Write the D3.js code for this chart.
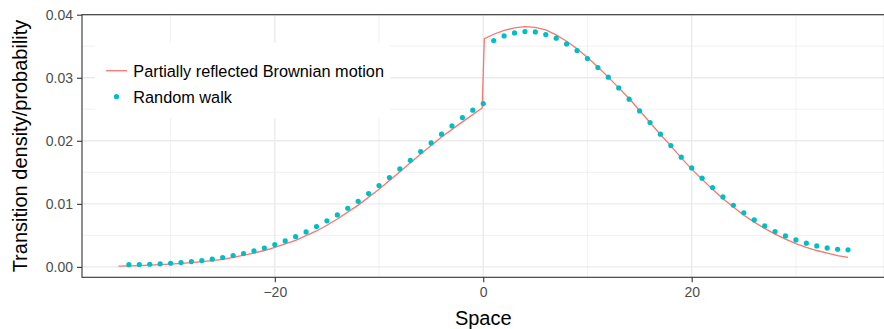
<!DOCTYPE html>
<html>
<head>
<meta charset="utf-8">
<script src="https://cdn.jsdelivr.net/npm/d3@7"></script>
<style>
  body { margin: 0; background: #fff; }
  svg { display: block; font-family: "Liberation Sans", Arial, sans-serif; }
</style>
</head>
<body>
<div id="chart"></div>
<script>
// continuous curve (partially reflected Brownian motion)
const densityX = [-35, -33, -31, -30, -28, -26, -25, -24, -22, -21, -20, -18, -16, -15, -14, -12, -10, -8, -6, -4, -2, -0.1,
  0.1, 1, 2, 3, 4, 5, 6, 7, 8, 9, 10, 11, 12, 13, 14, 15, 16, 17, 18, 19, 20, 21, 22, 23, 24, 25, 26, 27, 28, 29, 30, 31, 32, 33, 34, 35];
const densityY = [0.00012, 0.0002, 0.00035, 0.00045, 0.00068, 0.0010, 0.0012, 0.0015, 0.0022, 0.0026, 0.0031, 0.0042, 0.0057, 0.0066, 0.0076, 0.0098, 0.0123, 0.0151, 0.0179, 0.0206, 0.0230, 0.0252,
  0.0362, 0.0369, 0.0375, 0.0379, 0.0381, 0.0380, 0.0376, 0.0368, 0.0358, 0.0346, 0.0332, 0.0317, 0.0301, 0.0284, 0.0267, 0.0248, 0.0229, 0.0210, 0.0192, 0.0173, 0.0155, 0.0139, 0.0123, 0.0108, 0.0095, 0.0082, 0.0071, 0.0061, 0.0052, 0.0044, 0.0037, 0.0031, 0.0026, 0.0022, 0.0018, 0.0015];

// random walk probabilities
const walkX = [-34, -33, -32, -31, -30, -29, -28, -27, -26, -25, -24, -23, -22, -21, -20, -19, -18, -17, -16, -15, -14, -13, -12, -11, -10, -9, -8, -7, -6, -5, -4, -3, -2, -1, 0,
  1, 2, 3, 4, 5, 6, 7, 8, 9, 10, 11, 12, 13, 14, 15, 16, 17, 18, 19, 20, 21, 22, 23, 24, 25, 26, 27, 28, 29, 30, 31, 32, 33, 34, 35];
const walkY = [0.00036, 0.00038, 0.00042, 0.00048, 0.00058, 0.00069, 0.00085, 0.0010, 0.00122, 0.00148, 0.0018, 0.0021, 0.00254, 0.0030, 0.00354, 0.00412, 0.0048, 0.00555, 0.0064, 0.0073, 0.00825, 0.0093, 0.0104, 0.01163, 0.0129, 0.01417, 0.01554, 0.0169, 0.01829, 0.01967, 0.02105, 0.02236, 0.02368, 0.02485, 0.0259,
  0.0359, 0.03664, 0.03711, 0.03732, 0.03727, 0.03685, 0.03627, 0.03537, 0.03431, 0.03304, 0.03161, 0.03009, 0.02839, 0.0266, 0.02474, 0.02289, 0.02105, 0.01924, 0.0174, 0.0157, 0.01407, 0.01258, 0.0111, 0.00978, 0.00859, 0.00745, 0.0065, 0.0056, 0.00492, 0.00428, 0.00376, 0.00333, 0.00301, 0.0028, 0.0027];

const xTicks = [-20, 0, 20];
const xMinor = [-30, -10, 10, 30];
const yTicks = [0, 0.01, 0.02, 0.03, 0.04];
const yMinor = [0.005, 0.015, 0.025, 0.035];
const legendLabels = ['Partially reflected Brownian motion', 'Random walk'];

const width = 884, height = 329;
const panel = { left: 82, right: 884.5, top: 14.7, bottom: 277.3 };

const x = d3.scaleLinear().domain([-38.5, 38.5]).range([panel.left, panel.right]);
const y = d3.scaleLinear().domain([-0.00165, 0.04]).range([panel.bottom, panel.top]);

const svg = d3.select('#chart').append('svg')
  .attr('width', width)
  .attr('height', height);

// grid
const grid = svg.append('g');
grid.selectAll('.ymin').data(yMinor).enter().append('line')
  .attr('x1', panel.left).attr('x2', panel.right)
  .attr('y1', d => y(d)).attr('y2', d => y(d))
  .attr('stroke', '#ebebeb').attr('stroke-width', 0.7);
grid.selectAll('.xmin').data(xMinor).enter().append('line')
  .attr('y1', panel.top).attr('y2', panel.bottom)
  .attr('x1', d => x(d)).attr('x2', d => x(d))
  .attr('stroke', '#ebebeb').attr('stroke-width', 0.7);
grid.selectAll('.ymaj').data(yTicks).enter().append('line')
  .attr('x1', panel.left).attr('x2', panel.right)
  .attr('y1', d => y(d)).attr('y2', d => y(d))
  .attr('stroke', '#ebebeb').attr('stroke-width', 1.4);
grid.selectAll('.xmaj').data(xTicks).enter().append('line')
  .attr('y1', panel.top).attr('y2', panel.bottom)
  .attr('x1', d => x(d)).attr('x2', d => x(d))
  .attr('stroke', '#ebebeb').attr('stroke-width', 1.4);

// legend background sits over the grid
const legend = svg.append('g');
legend.append('rect')
  .attr('x', 95).attr('y', 43).attr('width', 295).attr('height', 75)
  .attr('fill', '#fff');

// density line
const line = d3.line()
  .x((d, i) => x(densityX[i]))
  .y(d => y(d));

svg.append('path')
  .datum(densityY)
  .attr('d', line)
  .attr('fill', 'none')
  .attr('stroke', '#F8766D')
  .attr('stroke-width', 1.3);

// random walk points
svg.selectAll('.pt')
  .data(walkY)
  .enter().append('circle')
  .attr('cx', (d, i) => x(walkX[i]))
  .attr('cy', d => y(d))
  .attr('r', 2.6)
  .attr('fill', '#00BFC4');

// panel border
svg.append('rect')
  .attr('x', panel.left).attr('y', panel.top)
  .attr('width', panel.right - panel.left).attr('height', panel.bottom - panel.top)
  .attr('fill', 'none').attr('stroke', '#333333').attr('stroke-width', 1.1);

// axes
const xAxis = svg.append('g')
  .attr('transform', 'translate(0,' + panel.bottom + ')')
  .call(d3.axisBottom(x).tickValues(xTicks).tickSize(5).tickPadding(5)
    .tickFormat(d => d < 0 ? '\u2212' + Math.abs(d) : String(d)));
const yAxis = svg.append('g')
  .attr('transform', 'translate(' + panel.left + ',0)')
  .call(d3.axisLeft(y).tickValues(yTicks).tickSize(5).tickPadding(4)
    .tickFormat(d3.format('.2f')));

[xAxis, yAxis].forEach(g => {
  g.select('.domain').remove();
  g.selectAll('.tick line').attr('stroke', '#333333').attr('stroke-width', 1.1);
  g.selectAll('.tick text')
    .attr('fill', '#4d4d4d')
    .style('font-size', '14px')
    .style('font-family', '"Liberation Sans", Arial, sans-serif');
});

// axis titles
svg.append('text')
  .attr('x', x(0)).attr('y', 325)
  .attr('text-anchor', 'middle')
  .style('font-size', '20px')
  .text('Space');

svg.append('text')
  .attr('transform', 'translate(26.5,' + ((panel.top + panel.bottom) / 2) + ') rotate(-90)')
  .attr('text-anchor', 'middle')
  .style('font-size', '20px')
  .text('Transition density/probability');

// legend keys
legend.append('line')
  .attr('x1', 106).attr('x2', 127).attr('y1', 70.7).attr('y2', 70.7)
  .attr('stroke', '#F8766D').attr('stroke-width', 1.3);
legend.append('circle')
  .attr('cx', 116.5).attr('cy', 96.7).attr('r', 2.6)
  .attr('fill', '#00BFC4');
legend.selectAll('.lab').data(legendLabels).enter().append('text')
  .attr('x', 133.3)
  .attr('y', (d, i) => 76.5 + i * 26)
  .style('font-size', '16.3px')
  .text(d => d);
</script>
</body>
</html>
